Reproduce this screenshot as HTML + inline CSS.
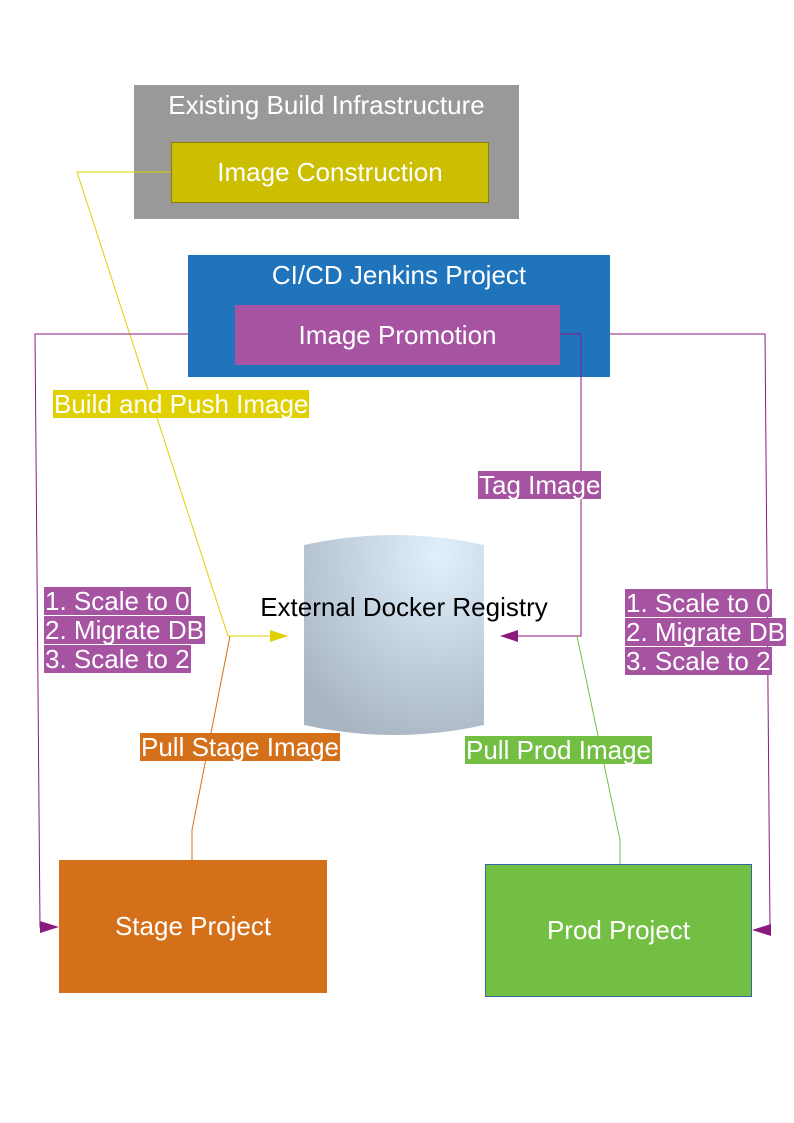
<!DOCTYPE html>
<html><head><meta charset="utf-8"><style>
body{margin:0;width:794px;height:1123px;background:#fff;position:relative;font-family:"Liberation Sans",sans-serif;overflow:hidden}
.a{position:absolute;box-sizing:border-box}
.c{display:flex;align-items:center;justify-content:center;color:#fff;font-size:26px}
.l{position:absolute;color:#fff;font-size:26px;line-height:28px;white-space:nowrap;padding:0 1px}
</style></head><body>
<div class="a" style="left:134px;top:85px;width:385px;height:134px;background:#999"></div>
<div class="a c" style="left:134px;top:90px;width:385px;height:30px">Existing Build Infrastructure</div>
<div class="a c" style="left:171px;top:142px;width:318px;height:61px;background:#ccbe00;border:1px solid #8a7f00">Image Construction</div>
<div class="a" style="left:188px;top:255px;width:422px;height:122px;background:#1f74bc"></div>
<div class="a c" style="left:188px;top:260px;width:422px;height:30px">CI/CD Jenkins Project</div>
<div class="a c" style="left:235px;top:305px;width:325px;height:60px;background:#a653a1">Image Promotion</div>
<div class="a c" style="left:59px;top:860px;width:268px;height:133px;background:#d5701a">Stage Project</div>
<div class="a c" style="left:485px;top:864px;width:267px;height:133px;background:#73bf44;border:1px solid #3465a4">Prod Project</div>
<svg class="a" style="left:0;top:0" width="794" height="1123">
<defs><radialGradient id="g" cx="0.75" cy="0.1" r="1"><stop offset="0" stop-color="#e0f0fc"/><stop offset="1" stop-color="#a8b4c2"/></radialGradient></defs>
<path d="M304,545 Q394,525 484,545 L484,725 Q394,745 304,725 Z" fill="url(#g)"/>
<g fill="none" stroke-width="1">
<polyline points="171,172 77,172 228,636 272,636" stroke="#e0d000"/>
<polyline points="188,334 35,334 40,927 46,927" stroke="#8b1a7f"/>
<polyline points="610,334 765,334 770,930 766,930" stroke="#8b1a7f"/>
<polyline points="560,334 581,334 581,636 516,636" stroke="#8b1a7f"/>
<polyline points="192,860 192,830 230,636" stroke="#d5701a"/>
<polyline points="620,864 620,840 577,636" stroke="#73bf44"/>
</g>
<polygon points="288,636 270,630 270,642" fill="#e0d000"/>
<polygon points="500,636 518,630 518,642" fill="#8b1a7f"/>
<polygon points="59,927 40,921 40,933" fill="#8b1a7f"/>
<polygon points="752,930 771,924 771,936" fill="#8b1a7f"/>
</svg>
<div class="a" style="left:204px;top:592px;width:400px;text-align:center;font-size:26px;color:#000">External Docker Registry</div>
<div class="l" style="left:53px;top:390px;background:#e0d000">Build and Push Image</div>
<div class="l" style="left:478px;top:471px;background:#a653a1">Tag Image</div>
<div class="l" style="left:44px;top:587px;background:#a653a1">1. Scale to 0</div>
<div class="l" style="left:44px;top:616px;background:#a653a1">2. Migrate DB</div>
<div class="l" style="left:44px;top:645px;background:#a653a1">3. Scale to 2</div>
<div class="l" style="left:625px;top:589px;background:#a653a1">1. Scale to 0</div>
<div class="l" style="left:625px;top:618px;background:#a653a1">2. Migrate DB</div>
<div class="l" style="left:625px;top:647px;background:#a653a1">3. Scale to 2</div>
<div class="l" style="left:140px;top:733px;background:#d5701a">Pull Stage Image</div>
<div class="l" style="left:465px;top:736px;background:#73bf44">Pull Prod Image</div>
</body></html>
